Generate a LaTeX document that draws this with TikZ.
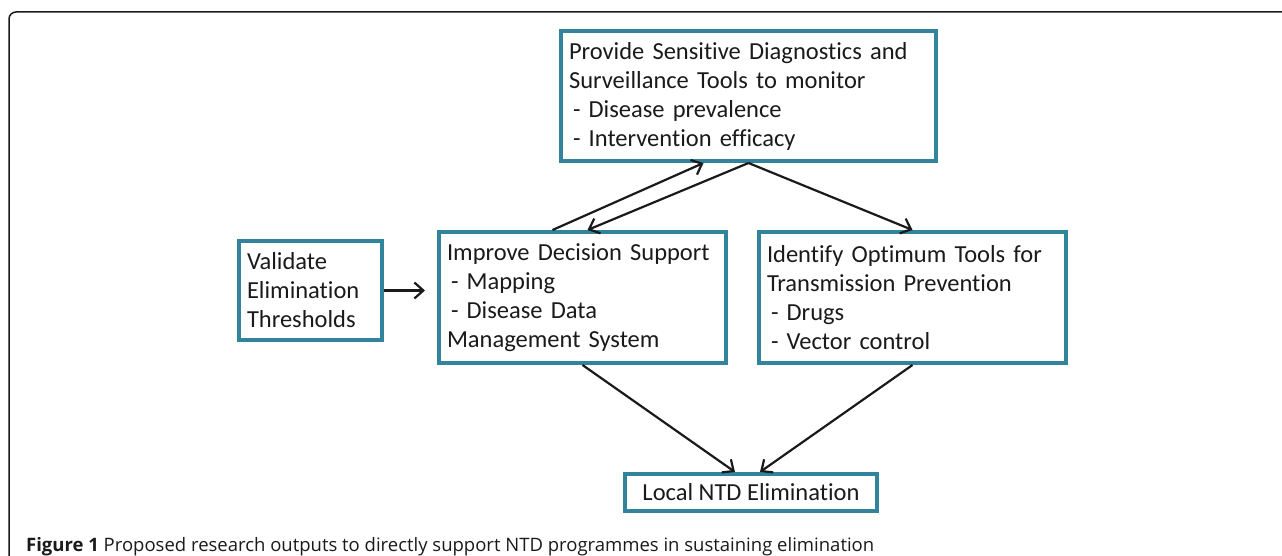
\documentclass[tikz,border=0pt]{standalone}
\usepackage{fontspec}
\setmainfont{Carlito}[Ligatures={NoCommon}]
\newfontfamily\captionfont{Open Sans}
\usetikzlibrary{arrows.meta,positioning}
\definecolor{boxteal}{RGB}{49,132,155}
\definecolor{inkgray}{RGB}{26,26,26}
\newcommand{\dashitem}{\hspace*{4pt}- }
\tikzset{
  outbox/.style={draw=boxteal, line width=4pt, rectangle, inner xsep=8pt, inner ysep=0pt,
    align=left, text=inkgray, font=\fontsize{24.5}{29}\selectfont},
  flow/.style={-{Straight Barb[length=9pt,width=16pt]}, line width=2.2pt, draw=inkgray}
}

\begin{document}
\begin{tikzpicture}[x=1pt,y=-1pt]
  \useasboundingbox (0,0) rectangle (1282,556);
  % frame round the figure
  \draw[line width=1.5pt, rounded corners=7pt, inkgray] (9,556) -- (9,12) -- (1282,12);

  % boxes
  \node[outbox, minimum width=375pt, minimum height=130pt, text width=359pt] (monitor) at (748.5,96)
    {Provide Sensitive Diagnostics and\\Surveillance Tools to monitor\\\dashitem Disease prevalence\\\dashitem Intervention efficacy};
  \node[outbox, minimum width=143pt, minimum height=99pt, text width=127pt] (validate) at (310.5,290.5)
    {Validate\\Elimination\\Thresholds};
  \node[outbox, minimum width=287pt, minimum height=131pt, text width=271pt] (decision) at (582.5,297.5)
    {Improve Decision Support\\\dashitem Mapping\\\dashitem Disease Data\\Management System};
  \node[outbox, minimum width=307pt, minimum height=131pt, text width=291pt] (tools) at (912.5,297.5)
    {Identify Optimum Tools for\\Transmission Prevention\\\dashitem Drugs\\\dashitem Vector control};
  \node[outbox, minimum width=252pt, minimum height=37pt, align=center] (local) at (751,492.5)
    {Local NTD Elimination};

  % arrows
  \draw[flow, shorten >=12pt] (validate.east) -- (validate.east -| decision.west);
  \draw[flow] ([xshift=-30pt]decision.north) -- ([xshift=-45pt]monitor.south);
  \draw[flow] (monitor.south) -- ([xshift=5pt]decision.north);
  \draw[flow] (monitor.south) -- (tools.north);
  \draw[flow] (decision.south) -- ([xshift=-16pt]local.north);
  \draw[flow] (tools.south) -- ([xshift=9pt]local.north);

  % caption
  \node[anchor=base west, inner sep=0pt, text=inkgray, font=\captionfont\fontsize{18.5}{22}\selectfont] (caption) at (26,551)
    {\textbf{Figure 1} Proposed research outputs to directly support NTD programmes in sustaining elimination};
\end{tikzpicture}
\end{document}
